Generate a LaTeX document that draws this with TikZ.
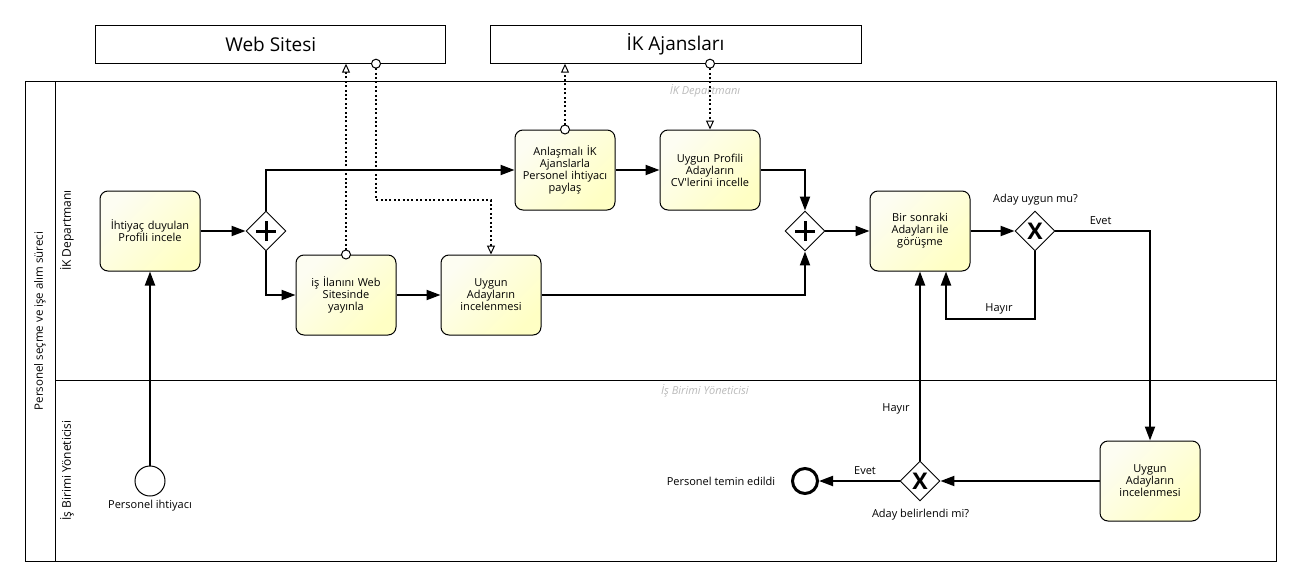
\documentclass[tikz,border=0pt]{standalone}
\usepackage{fontspec}
\setmainfont{Open Sans}
\usetikzlibrary{shapes.geometric,arrows.meta,calc}
\definecolor{tasklight}{RGB}{253,253,242}
\definecolor{taskdark}{RGB}{255,255,196}
\definecolor{lanegrey}{RGB}{185,185,185}
\begin{document}
\begin{tikzpicture}[x=1pt,y=-1pt,
  task/.style={draw, line width=1pt, rounded corners=8pt, minimum width=100pt, minimum height=80pt,
    text width=96pt, inner sep=0pt, align=center, font=\fontsize{11}{12}\selectfont,
    top color=tasklight, bottom color=taskdark, shading angle=45},
  gw/.style={draw, diamond, line width=0.9pt, minimum width=40pt, minimum height=40pt, inner sep=0pt, fill=white},
  store/.style={draw, line width=1pt, minimum height=38pt, inner sep=0pt, font=\fontsize{19}{22}\selectfont},
  seq/.style={line width=2pt, -{Triangle[length=14pt,width=10pt]}},
  assoc/.style={line width=2pt, dash pattern=on 2pt off 2.4pt,
    {Circle[length=10pt,width=10pt,fill=white,line width=1pt]}-{Triangle[length=9pt,width=8pt,fill=white,line width=1pt]}},
  lbl/.style={font=\fontsize{11}{13}\selectfont, inner sep=0pt},
  lanelbl/.style={font=\fontsize{12}{14}\selectfont, inner sep=0pt, rotate=90},
  greylbl/.style={font=\itshape\fontsize{11}{13}\selectfont, text=lanegrey, inner sep=0pt},
  plusbar/.style={line width=3pt},
  xmark/.style={font=\bfseries\fontsize{23}{23}\selectfont, inner sep=0pt}
]
\useasboundingbox (0,0) rectangle (1301,586);

% pool and lanes
\draw[line width=1pt] (25,81.5) rectangle (1276.5,561.5);
\draw[line width=1pt] (55,81.5) -- (55,561.5);
\draw[line width=1pt] (55,380.5) -- (1276.5,380.5);
\node[lanelbl, font=\fontsize{11.5}{14}\selectfont] (poollbl) at (40,321) {Personel seçme ve işe alım süreci};
\node[lanelbl] (lane1lbl) at (67,230.5) {İK Departmanı};
\node[lanelbl] (lane2lbl) at (67,470.5) {İş Birimi Yöneticisi};
\node[greylbl] (lane1grey) at (705,91) {İK Departmanı};
\node[greylbl] (lane2grey) at (705,390.5) {İş Birimi Yöneticisi};

% data stores
\node[store, minimum width=350pt] (web) at (270.8,44.2) {Web Sitesi};
\node[store, minimum width=371pt] (ika) at (675.5,44.2) {İK Ajansları};

% tasks
\node[task] (t1) at (150,231) {İhtiyaç duyulan\\Profili incele};
\node[task] (t2) at (565,170) {Anlaşmalı İK\\Ajanslarla\\Personel ihtiyacı\\paylaş};
\node[task] (t3) at (710,170) {Uygun Profili\\Adayların\\CV\textquotesingle lerini incelle};
\node[task] (t4) at (346,295) {iş İlanını Web\\Sitesinde\\yayınla};
\node[task] (t5) at (491,295) {Uygun\\Adayların\\incelenmesi};
\node[task] (t6) at (920,231) {Bir sonraki\\Adayları ile\\görüşme};
\node[task] (t7) at (1150,481) {Uygun\\Adayların\\incelenmesi};

% gateways
\node[gw] (g1) at (266,231) {};
\draw[plusbar] ($(g1)+(-10,0)$) -- ($(g1)+(10,0)$);
\draw[plusbar] ($(g1)+(0,-10)$) -- ($(g1)+(0,10)$);
\node[gw] (g2) at (805,231) {};
\draw[plusbar] ($(g2)+(-10,0)$) -- ($(g2)+(10,0)$);
\draw[plusbar] ($(g2)+(0,-10)$) -- ($(g2)+(0,10)$);
\node[gw] (g3) at (1035,231) {};
\node[xmark] (g3x) at (g3) {X};
\node[gw] (g4) at (920,481) {};
\node[xmark] (g4x) at (g4) {X};

% events
\node[draw, circle, line width=1pt, minimum size=30pt, inner sep=0pt, fill=white] (start) at (150,481) {};
\node[draw, circle, line width=3pt, minimum size=25pt, inner sep=0pt, fill=white] (endev) at (805,481) {};

% sequence flows
\draw[seq] (start) -- (t1);
\draw[seq] (t1) -- (g1);
\draw[seq] (g1.north) |- (t2.west);
\draw[seq] (g1.south) |- (t4.west);
\draw[seq] (t2) -- (t3);
\draw[seq] (t4) -- (t5);
\draw[seq] (t3.east) -| (g2.north);
\draw[seq] (t5.east) -| (g2.south);
\draw[seq] (g2) -- (t6);
\draw[seq] (t6) -- (g3);
\draw[seq] (g3.east) -| (t7.north);
\coordinate (hloop) at (946,319);
\draw[seq] (g3.south) |- (hloop) -- (hloop |- t6.south);
\draw[seq] (t7) -- (g4);
\draw[seq] (g4) -- (t6);
\draw[seq] (g4) -- (endev);

% associations
\draw[assoc] ([yshift=-5pt]t4.north) -- (t4.north |- web.south);
\coordinate (abend) at (376,200);
\draw[assoc] ([xshift=105.2pt,yshift=5pt]web.south) -- (abend) -| (t5.north);
\draw[assoc] ([yshift=-5pt]t2.north) -- (t2.north |- ika.south);
\draw[assoc] ([xshift=34.5pt,yshift=5pt]ika.south) -- ([xshift=34.5pt]ika.south |- t3.north);

% labels
\node[lbl] (l1) at (1035.5,199.3) {Aday uygun mu?};
\node[lbl] (l2) at (1100.7,221) {Evet};
\node[lbl] (l3) at (999,309) {Hayır};
\node[lbl] (l4) at (896,409) {Hayır};
\node[lbl] (l5) at (865,471) {Evet};
\node[lbl] (l6) at (920.5,515) {Aday belirlendi mi?};
\node[lbl] (l7) at (721,481) {Personel temin edildi};
\node[lbl] (l8) at (150,505.5) {Personel ihtiyacı};
\end{tikzpicture}
\end{document}
